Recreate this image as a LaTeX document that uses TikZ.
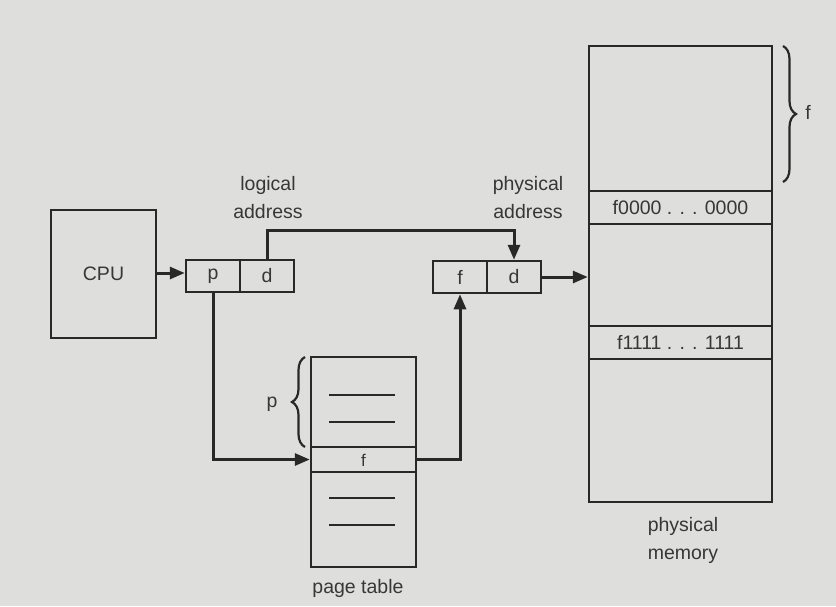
\documentclass[tikz,border=0pt]{standalone}
\usepackage{fontspec}
\setmainfont{Liberation Sans}
\usetikzlibrary{arrows.meta,decorations.pathreplacing}
\definecolor{paper}{RGB}{222,222,220}
\definecolor{ink}{RGB}{40,40,40}
\definecolor{txt}{RGB}{55,55,55}
\begin{document}
\begin{tikzpicture}[x=1pt,y=-1pt,
  every node/.style={font=\fontsize{19.5}{28}\selectfont, text=txt},
  cell/.style={draw=ink, line width=2.5pt, minimum width=54pt, minimum height=32pt, inner sep=0pt},
  block/.style={draw=ink, line width=2.5pt, inner sep=0pt},
  label/.style={align=center, inner sep=0pt},
  link/.style={draw=ink, line width=3pt},
  tip/.style={-{Triangle[length=15pt,width=12pt]}},
  curly/.style={draw=ink, line width=2.2pt, decorate, decoration={brace, amplitude=13pt}}]
\fill[paper] (0,0) rectangle (836,606);
\useasboundingbox (0,0) rectangle (836,606);

% CPU
\node[block, minimum width=105pt, minimum height=128pt] (cpu) at (103.5,274) {CPU};

% logical address p | d
\node[cell] (lp) at (213,276) {p};
\node[cell] (ld) at (267,276) {d};
\node[label] (llab) at (268,198) {logical\\address};

% physical address f | d
\node[cell] (pf) at (460,277) {f};
\node[cell] (pd) at (514,277) {d};
\node[label] (plab) at (528,198) {physical\\address};

% physical memory
\node[block, minimum width=183pt, minimum height=145pt] (m1) at (680.5,118.5) {};
\node[block, minimum width=183pt, minimum height=33pt] (m2) at (680.5,207.5) {f0000 . . . 0000};
\node[block, minimum width=183pt, minimum height=102pt] (m3) at (680.5,275) {};
\node[block, minimum width=183pt, minimum height=33pt] (m4) at (680.5,342.5) {f1111 . . . 1111};
\node[block, minimum width=183pt, minimum height=143pt] (m5) at (680.5,430.5) {};
\node[label] (mlab) at (683,540) {physical\\memory};

% frame brace
\coordinate (fb1) at (783,46);
\coordinate (fb2) at (783,182);
\draw[curly] (fb1) -- (fb2);
\node[inner sep=0pt] (flab) at (808,112) {f};

% page table
\node[block, minimum width=105pt, minimum height=90pt] (t1) at (363.5,402) {};
\node[block, minimum width=105pt, minimum height=25pt] (t2) at (363.5,459.5) {};
\node[font=\fontsize{17}{20}\selectfont, inner sep=0pt] (t2f) at (363.5,460) {f};
\node[block, minimum width=105pt, minimum height=95pt] (t3) at (363.5,519.5) {};
\node[inner sep=0pt] (tlab) at (358,588) {page table};
\foreach \yy in {395,422,498,525}
  \draw[ink, line width=2.2pt] (329,\yy) -- (395,\yy);

% page brace
\coordinate (pb1) at (305,447);
\coordinate (pb2) at (305,357);
\draw[curly] (pb1) -- (pb2);
\node[inner sep=0pt] (plab2) at (272,404) {p};

% connectors
\coordinate (dtop) at (267,230);
\coordinate (dturn) at (514,230);
\draw[link, tip] (cpu.east |- 0,273) -- (lp.west |- 0,273);
\draw[link, tip] (ld.north) -- (dtop) -- (dturn) -- (pd.north);
\draw[link, tip] (pd.east) -- (m3.west |- pd.east);
\draw[link, tip] (lp.south) |- (t2.west);
\draw[link, tip] (t2.east) -| (pf.south);
\end{tikzpicture}
\end{document}
